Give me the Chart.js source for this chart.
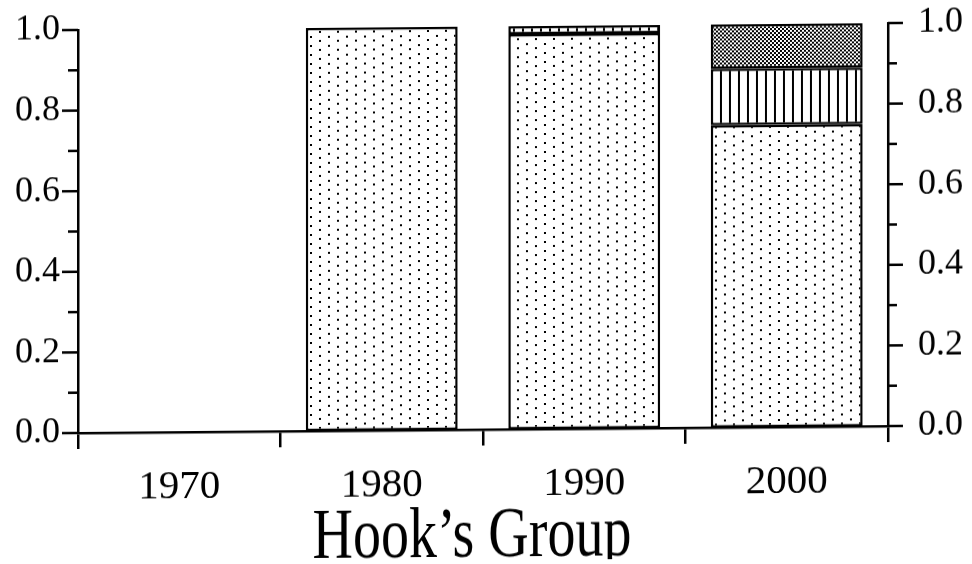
<!DOCTYPE html>
<html>
<head>
<meta charset="utf-8">
<script src="https://cdn.jsdelivr.net/npm/chart.js@4"></script>
<style>
  html, body { margin: 0; padding: 0; background: #fff; }
  #wrap { width: 972px; height: 564px; overflow: hidden; }
  canvas { display: block; transform-origin: 78px 0px; transform: skewY(-0.49deg); }
</style>
</head>
<body>
<div id="wrap"><canvas id="c" width="972" height="564"></canvas></div>
<script>
// ---- data ----
const categories = ['1970', '1980', '1990', '2000'];
const dottedShare  = [null, 1.00, 0.98, 0.75];
const stripedShare = [null, null, 0.02, 0.14];
const hatchedShare = [null, null, null, 0.11];
const yTickValues = [0.0, 0.1, 0.2, 0.3, 0.4, 0.5, 0.6, 0.7, 0.8, 0.9, 1.0];
const xTitle = 'Hook\u2019s Group';

// ---- patterns ----
function makePattern(w, h, paint) {
  const c = document.createElement('canvas');
  c.width = w; c.height = h;
  const g = c.getContext('2d');
  g.fillStyle = '#fff'; g.fillRect(0, 0, w, h);
  g.fillStyle = '#000';
  paint(g);
  return document.getElementById('c').getContext('2d').createPattern(c, 'repeat');
}
const dotPattern = makePattern(18, 18, g => {
  g.fillRect(4, 2, 2, 2); g.fillRect(4, 11, 2, 2);
  g.fillRect(13, 6, 2, 2); g.fillRect(13, 15, 2, 2);
});
const stripePattern = makePattern(9, 9, g => { g.fillRect(0, 0, 2, 9); });
const hatchPattern = makePattern(4, 4, g => { g.fillRect(0, 0, 2, 2); g.fillRect(2, 2, 2, 2); });

const FONT = "'Liberation Serif', 'DejaVu Serif', serif";
const TITLE_STRETCH = 1.27;
const TITLE_SHIFT = -11;

const tickMarks = {
  id: 'tickMarks',
  beforeLayout(chart) {
    const xs = chart.scales.x;
    if (xs && !xs._stretched) {
      xs._stretched = true;
      xs.drawTitle = function () {
        const ctx = this.ctx;
        const font = Chart.helpers.toFont(this.options.title.font);
        const pad = Chart.helpers.toPadding(this.options.title.padding);
        const cy = this.bottom - font.lineHeight / 2 - pad.bottom;
        ctx.save();
        ctx.translate(TITLE_SHIFT, cy);
        ctx.scale(1, TITLE_STRETCH);
        ctx.translate(0, -cy);
        Chart.Scale.prototype.drawTitle.call(this);
        ctx.restore();
      };
    }
  },
  afterDraw(chart) {
    const ctx = chart.ctx;
    ctx.save();
    ctx.strokeStyle = '#000';
    ctx.lineWidth = 2.5;
    ['y', 'y2'].forEach(id => {
      const s = chart.scales[id];
      yTickValues.forEach(v => {
        const py = s.getPixelForValue(v);
        const major = Math.round(v * 10) % 2 === 0;
        ctx.beginPath();
        if (id === 'y') {
          const x0 = chart.chartArea.left;
          ctx.moveTo(x0 - (major ? 16 : 10), py);
          ctx.lineTo(x0, py);
        } else {
          const x0 = chart.chartArea.right;
          ctx.moveTo(x0, py);
          ctx.lineTo(x0 + (major ? 15 : 9), py);
        }
        ctx.stroke();
      });
    });
    ctx.restore();
  }
};

const barCommon = { borderColor: '#000', borderWidth: 2.5, borderSkipped: false,
  categoryPercentage: 1.0, barPercentage: 0.75 };

const yCommon = {
  min: 0, max: 1,
  grid: { display: false, drawTicks: false },
  border: { display: true, color: '#000', width: 2.5 },
};

new Chart(document.getElementById('c'), {
  type: 'bar',
  data: {
    labels: categories,
    datasets: [
      Object.assign({ label: 'dotted', data: dottedShare, backgroundColor: dotPattern }, barCommon),
      Object.assign({ label: 'striped', data: stripedShare, backgroundColor: stripePattern }, barCommon),
      Object.assign({ label: 'hatched', data: hatchedShare, backgroundColor: hatchPattern }, barCommon),
    ]
  },
  options: {
    responsive: false,
    animation: false,
    layout: { padding: { top: 30, left: 0, right: 0, bottom: 0 } },
    plugins: { legend: { display: false }, tooltip: { enabled: false }, title: { display: false } },
    scales: {
      x: {
        stacked: true,
        grid: { display: true, offset: true, drawOnChartArea: false, drawTicks: true, tickLength: 16, color: '#000', lineWidth: 2.5 },
        border: { display: true, color: '#000', width: 2.5 },
        ticks: { color: '#000', font: { family: FONT, size: 41 }, padding: 15, maxRotation: 0 },
        title: { display: true, text: xTitle, color: '#000', font: { family: FONT, size: 56, lineHeight: 0.7 }, padding: { top: 0, bottom: 3 } },
        afterFit(s) { s.height = 131; s.paddingLeft = 0; s.paddingRight = 0; }
      },
      y: Object.assign({}, yCommon, {
        position: 'left', stacked: true,
        ticks: { stepSize: 0.1, color: '#000', font: { family: FONT, size: 36 }, padding: 18,
          callback: v => (Math.round(v * 10) % 2 === 0 ? v.toFixed(1) : '') },
        afterFit(s) { s.width = 78; s.paddingTop = 0; s.paddingBottom = 0; }
      }),
      y2: Object.assign({}, yCommon, {
        position: 'right',
        ticks: { stepSize: 0.1, color: '#000', font: { family: FONT, size: 36 }, padding: 30,
          callback: v => (Math.round(v * 10) % 2 === 0 ? v.toFixed(1) : '') },
        afterFit(s) { s.width = 84; s.paddingTop = 0; s.paddingBottom = 0; }
      })
    }
  },
  plugins: [tickMarks]
});
</script>
</body>
</html>
